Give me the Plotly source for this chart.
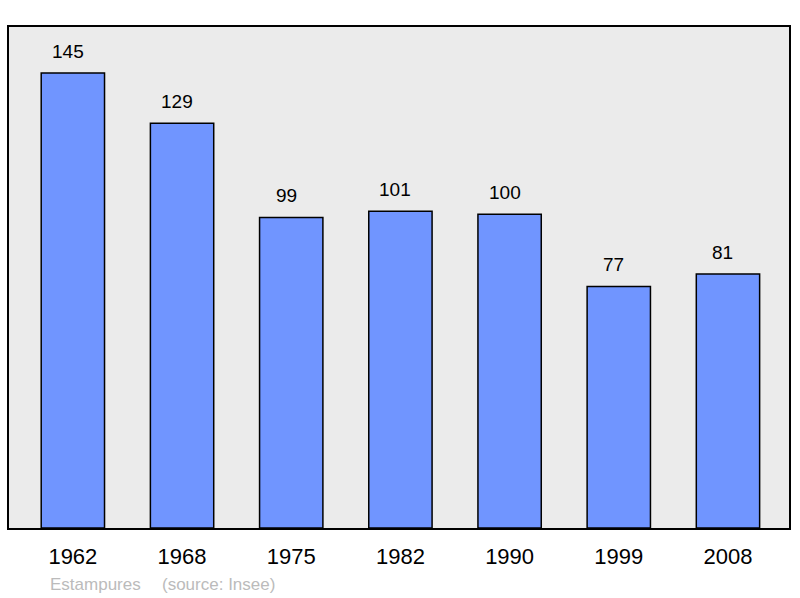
import plotly.graph_objects as go

# population of Estampures by census year
YEARS = ["1962", "1968", "1975", "1982", "1990", "1999", "2008"]
POPULATION = [145, 129, 99, 101, 100, 77, 81]

FONT = "Liberation Sans, Arial, sans-serif"


def main() -> None:
    xs = list(range(len(YEARS)))

    fig = go.Figure(
        go.Bar(
            x=xs,
            y=POPULATION,
            width=0.58,
            marker=dict(color="#7095FF", line=dict(color="#000000", width=1.5)),
            hoverinfo="skip",
        )
    )

    # value labels above each bar (sit a little left of the bar centre)
    for x, v in zip(xs, POPULATION):
        fig.add_annotation(
            x=x, y=v, text=str(v), showarrow=False,
            yanchor="bottom", yshift=9, xshift=-5,
            font=dict(family=FONT, size=19, color="#000000"),
        )

    # source line
    fig.add_annotation(
        xref="paper", yref="paper", x=(48 - 9) / 782, y=-0.112,
        xanchor="left", yanchor="middle", text="Estampures", showarrow=False,
        font=dict(family=FONT, size=17, color="#BBBBBB"),
    )
    fig.add_annotation(
        xref="paper", yref="paper", x=(160 - 9) / 782, y=-0.112,
        xanchor="left", yanchor="middle", text="(source: Insee)", showarrow=False,
        font=dict(family=FONT, size=17, color="#BBBBBB"),
    )

    fig.update_xaxes(
        range=[-0.585, 6.559],
        tickmode="array", tickvals=xs, ticktext=YEARS,
        ticks="outside", ticklen=8, tickcolor="rgba(0,0,0,0)",
        tickfont=dict(family=FONT, size=22, color="#000000"),
        showgrid=False, zeroline=False,
        showline=True, linecolor="#000000", linewidth=2, mirror=True,
    )
    fig.update_yaxes(
        range=[0, 159.7], showticklabels=False, showgrid=False, zeroline=False,
        showline=True, linecolor="#000000", linewidth=2, mirror=True,
    )
    fig.update_layout(
        width=800, height=598,
        margin=dict(l=9, r=9, t=27, b=70),
        plot_bgcolor="#EBEBEB", paper_bgcolor="#FFFFFF",
        showlegend=False,
    )
    # drop the page's default body margin so the figure sits at the corner
    fig.write_html(
        "out.html",
        config={"displayModeBar": False},
        post_script="document.body.style.margin='0';",
    )


if __name__ == "__main__":
    main()
